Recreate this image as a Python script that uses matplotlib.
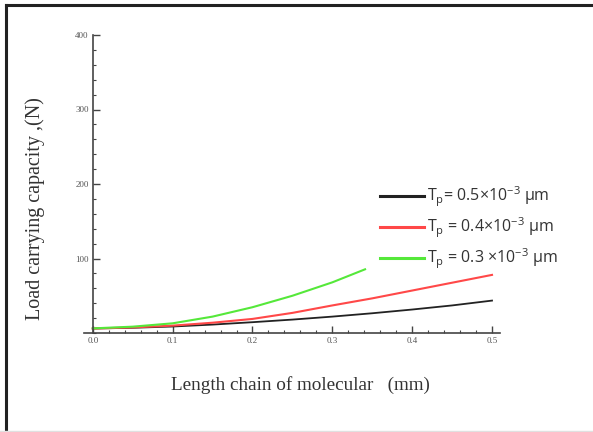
import matplotlib
matplotlib.use('Agg')
import matplotlib.pyplot as plt
from matplotlib.lines import Line2D
from matplotlib.ticker import MultipleLocator

# values
x_black = [0.0, 0.05, 0.1, 0.15, 0.2, 0.25, 0.3, 0.35, 0.4, 0.45, 0.5]
y_black = [6.0, 7.0, 8.7, 11.3, 14.5, 18.0, 22.0, 26.5, 31.5, 37.0, 43.5]
x_red = [0.0, 0.05, 0.1, 0.15, 0.2, 0.25, 0.3, 0.35, 0.4, 0.45, 0.5]
y_red = [6.0, 7.5, 9.9, 13.8, 18.9, 27.0, 37.0, 46.5, 57.0, 67.5, 78.0]
x_green = [0.0, 0.05, 0.1, 0.15, 0.2, 0.25, 0.3, 0.341]
y_green = [6.2, 8.5, 13.0, 22.0, 34.6, 50.0, 68.0, 85.5]
labels = ['T$_\\mathregular{p}$= 0.5×10$^\\mathregular{-3}$ µm',
          'T$_\\mathregular{p}$ = 0.4×10$^\\mathregular{-3}$ µm',
          'T$_\\mathregular{p}$ = 0.3 ×10$^\\mathregular{-3}$ µm']

fig = plt.figure(figsize=(5.93, 4.32), dpi=100)
ax = fig.add_axes([84/593, 99/432, 416/593, 298/432])

ax.plot(x_black, y_black, color='#222222', lw=1.3, label=labels[0])
ax.plot(x_red, y_red, color='#ff4848', lw=1.5, label=labels[1])
ax.plot(x_green, y_green, color='#55e83a', lw=1.5, label=labels[2])

ax.set_xlim(-0.011, 0.51)
ax.set_ylim(0, 400)
ax.spines['top'].set_visible(False)
ax.spines['right'].set_visible(False)
ax.spines['left'].set_position(('data', 0))
ax.spines['left'].set_bounds(0, 400)
for s in ['left', 'bottom']:
    ax.spines[s].set_color('#444444')
    ax.spines[s].set_linewidth(1.2)

ax.xaxis.set_minor_locator(MultipleLocator(0.02))
ax.yaxis.set_minor_locator(MultipleLocator(20))
ax.set_xticks([0, 0.1, 0.2, 0.3, 0.4, 0.5])
ax.set_xticklabels(['0.0', '0.1', '0.2', '0.3', '0.4', '0.5'])
ax.set_yticks([100, 200, 300, 400])
ax.tick_params(which='major', direction='in', length=5, width=1, color='#444444',
               labelsize=6.5, labelcolor='#555555', pad=3)
ax.tick_params(which='minor', direction='in', length=2.5, width=0.8, color='#444444')
for t in ax.get_xticklabels() + ax.get_yticklabels():
    t.set_family('Liberation Serif')

fig.text(300/593, 1 - 385/432, 'Length chain of molecular   (mm)', family='Liberation Serif',
         fontsize=13.8, color='#333333', ha='center', va='center')
fig.text(35/593, 1 - 209/432, 'Load carrying capacity ,(N)', family='Liberation Serif',
         fontsize=14.5, color='#333333', ha='center', va='center', rotation=90)

leg = ax.legend(loc='upper left', bbox_to_anchor=(366/593, 1 - 170/432),
                bbox_transform=fig.transFigure, frameon=False,
                handlelength=2.7, handletextpad=0.25, labelspacing=0.4,
                prop={'family': 'Open Sans', 'size': 11.5})
for h in leg.legend_handles:
    h.set_linewidth(2.2)
for t in leg.get_texts():
    t.set_color('#333333')

# border of the picture
fig.add_artist(Line2D([6/593, 1], [1 - 5/432, 1 - 5/432], transform=fig.transFigure,
                      color='#222222', lw=2.2))
fig.add_artist(Line2D([6/593, 6/593], [0, 1 - 5/432], transform=fig.transFigure,
                      color='#222222', lw=2.2))
fig.add_artist(Line2D([0, 1], [1/432, 1/432], transform=fig.transFigure,
                      color='#e0e0e0', lw=1))

fig.savefig('out.png', dpi=100)
